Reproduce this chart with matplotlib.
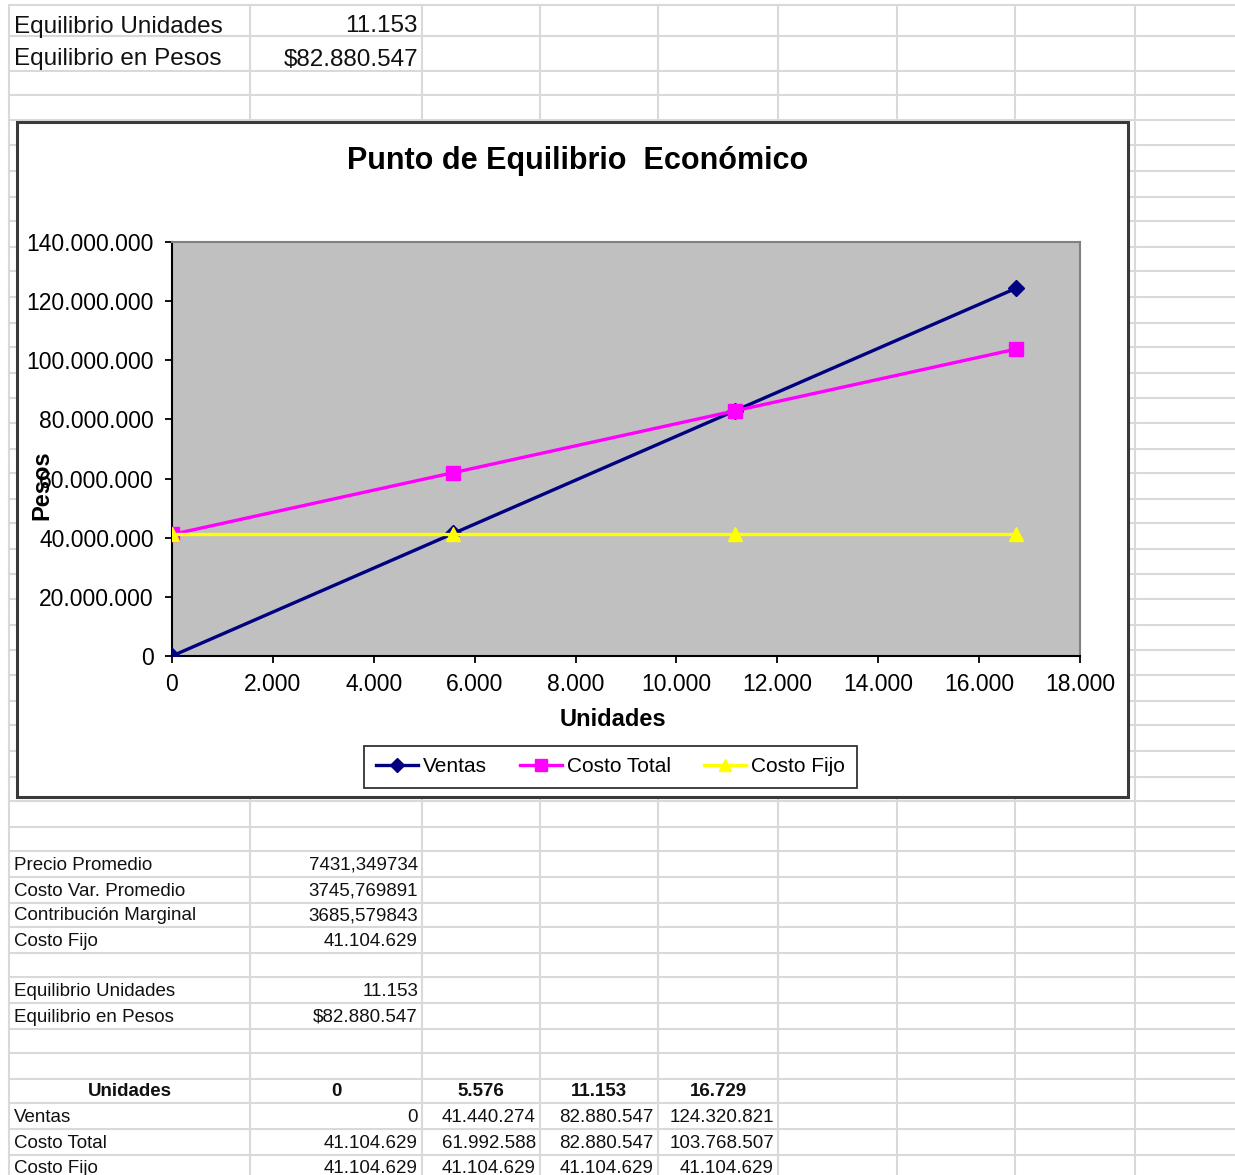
import matplotlib
matplotlib.use("Agg")
import matplotlib.pyplot as plt
from matplotlib.patches import Rectangle
from matplotlib.ticker import FuncFormatter, MultipleLocator

plt.rcParams['font.family'] = ['Liberation Sans', 'DejaVu Sans']

# resumen del punto de equilibrio
precio_promedio = 7431.349734
costo_var_promedio = 3745.769891
contribucion_marginal = 3685.579843
costo_fijo_total = 41104629
equilibrio_unidades = 11153
equilibrio_pesos = 82880547

# tabla que alimenta el grafico
unidades = [0, 5576, 11153, 16729]
ventas = [0, 41440274, 82880547, 124320821]
costo_total = [41104629, 61992588, 82880547, 103768507]
costo_fijo = [41104629, 41104629, 41104629, 41104629]


def miles(v):
    return f"{int(round(v)):,}".replace(",", ".")


def decimal(v):
    return f"{v:.6f}".replace(".", ",")


W, H = 1235, 1175
fig = plt.figure(figsize=(W / 100, H / 100), dpi=100)

# hoja de calculo de fondo, en pixeles
hoja = fig.add_axes([0, 0, 1, 1])
hoja.set_xlim(0, W)
hoja.set_ylim(H, 0)
hoja.axis('off')

cols = [9, 250, 422, 540, 658, 778, 897, 1015, 1135]
rows = [5, 36, 71, 95, 120, 145, 171, 197, 221, 247, 271, 297, 323, 347, 373,
        398, 423, 449, 473, 499, 523, 549, 574, 599, 625, 650, 675, 701, 725,
        751, 777, 801, 827, 851, 877, 903, 927, 953, 977, 1003, 1029, 1053,
        1079, 1103, 1129, 1155, 1180]
gris = '#d9d9d9'
for y in rows:
    hoja.plot([cols[0], W], [y, y], color=gris, lw=1.5, zorder=1)
for x in cols:
    hoja.plot([x, x], [rows[0], H], color=gris, lw=1.5, zorder=1)


def celda(texto, col, fila, ha='left', size=13.5, bold=False, dy=1):
    if ha == 'left':
        x = cols[col] + 5
    elif ha == 'right':
        x = cols[col + 1] - 4
    else:
        x = (cols[col] + cols[col + 1]) / 2
    y = (rows[fila] + rows[fila + 1]) / 2 + dy
    hoja.text(x, y, texto, ha=ha, va='center', fontsize=size,
              fontweight='bold' if bold else 'normal', color='#111111', zorder=3)


# encabezado grande
celda("Equilibrio Unidades", 0, 0, size=17.5, dy=6)
celda(miles(equilibrio_unidades), 1, 0, ha='right', size=17.5, dy=6)
celda("Equilibrio en Pesos", 0, 1, size=17.5, dy=6)
celda("$" + miles(equilibrio_pesos), 1, 1, ha='right', size=17.5, dy=6)

# bloque de resumen
celda("Precio Promedio", 0, 33)
celda(decimal(precio_promedio), 1, 33, ha='right')
celda("Costo Var. Promedio", 0, 34)
celda(decimal(costo_var_promedio), 1, 34, ha='right')
celda("Contribución Marginal", 0, 35)
celda(decimal(contribucion_marginal), 1, 35, ha='right')
celda("Costo Fijo", 0, 36)
celda(miles(costo_fijo_total), 1, 36, ha='right')
celda("Equilibrio Unidades", 0, 38)
celda(miles(equilibrio_unidades), 1, 38, ha='right')
celda("Equilibrio en Pesos", 0, 39)
celda("$" + miles(equilibrio_pesos), 1, 39, ha='right')

# tabla de datos
celda("Unidades", 0, 42, ha='center', bold=True)
for i, u in enumerate(unidades):
    celda(miles(u), i + 1, 42, ha='center', bold=True)
for fila, nombre, serie in [(43, "Ventas", ventas), (44, "Costo Total", costo_total),
                            (45, "Costo Fijo", costo_fijo)]:
    celda(nombre, 0, fila)
    for i, v in enumerate(serie):
        celda(miles(v), i + 1, fila, ha='right')

# marco del grafico
hoja.add_patch(Rectangle((17, 122), 1111, 675, facecolor='white',
                         edgecolor='#3a3a3a', lw=2.2, zorder=2))

# area de trazado
x0, x1, y0, y1 = 172, 1080, 242, 656
ax = fig.add_axes([x0 / W, 1 - y1 / H, (x1 - x0) / W, (y1 - y0) / H])
ax.set_facecolor('#c0c0c0')

ax.plot(unidades, ventas, color='#000080', lw=2.4, marker='D', ms=8,
        label='Ventas', zorder=3)
ax.plot(unidades, costo_total, color='#ff00ff', lw=2.4, marker='s', ms=10,
        label='Costo Total', zorder=3)
ax.plot(unidades, costo_fijo, color='#ffff00', lw=2.4, marker='^', ms=10,
        label='Costo Fijo', zorder=3)

ax.set_xlim(0, 18000)
ax.set_ylim(0, 140000000)
ax.xaxis.set_major_locator(MultipleLocator(2000))
ax.yaxis.set_major_locator(MultipleLocator(20000000))
ax.xaxis.set_major_formatter(FuncFormatter(lambda v, p: miles(v)))
ax.yaxis.set_major_formatter(FuncFormatter(lambda v, p: miles(v)))
ax.tick_params(direction='out', length=5, width=1.3, labelsize=16.5, pad=7,
               colors='black')
ax.tick_params(axis='y', pad=8)

for lado in ['top', 'right']:
    ax.spines[lado].set_color('#808080')
    ax.spines[lado].set_linewidth(1.5)
for lado in ['left', 'bottom']:
    ax.spines[lado].set_color('black')
    ax.spines[lado].set_linewidth(1.5)

ax.text((578 - x0) / (x1 - x0), (y1 - 161) / (y1 - y0),
        "Punto de Equilibrio  Económico", transform=ax.transAxes,
        ha='center', va='center', fontsize=22, fontweight='bold')
ax.set_xlabel("Unidades", fontsize=17, fontweight='bold')
ax.xaxis.set_label_coords((613 - x0) / (x1 - x0), (y1 - 719) / (y1 - y0))
ax.xaxis.label.set_va('center')
ax.set_ylabel("Pesos", fontsize=17, fontweight='bold')
ax.yaxis.set_label_coords((42 - x0) / (x1 - x0), (y1 - 485) / (y1 - y0))
ax.yaxis.label.set_va('center')

leg = fig.legend(loc='center', bbox_to_anchor=(610.5 / W, 1 - 767 / H), ncol=3,
                 fontsize=15, frameon=True, fancybox=False, edgecolor='black',
                 handlelength=2.0, handletextpad=0.25, columnspacing=1.6,
                 borderpad=0.55, borderaxespad=0, markerscale=0.85)
leg.get_frame().set_linewidth(1.3)

fig.savefig("out.png", dpi=100)
